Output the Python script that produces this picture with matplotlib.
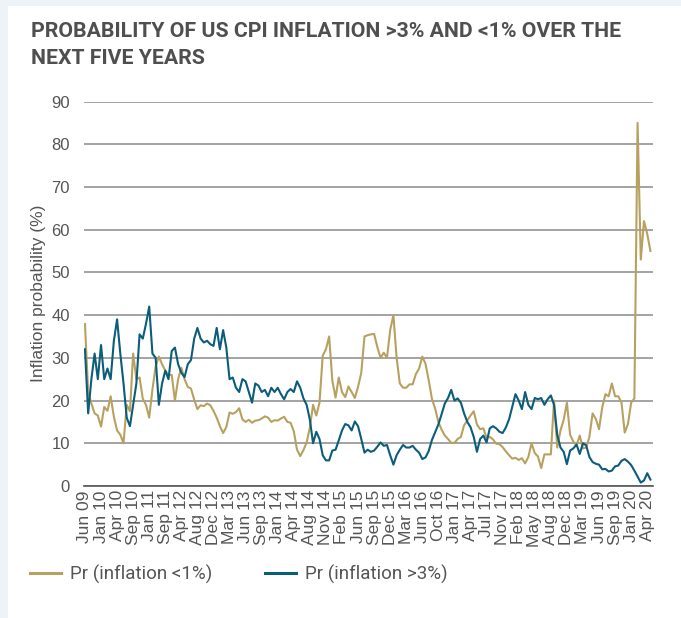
import matplotlib.pyplot as plt
from matplotlib.patches import Rectangle

# tick labels (one every 5 points)
labels = ['Jun 09', 'Jan 10', 'Apr 10', 'Sep 10', 'Jan 11', 'Sep 11', 'Apr 12', 'Aug 12',
          'Dec 12', 'Mar 13', 'Jun 13', 'Sep 13', 'Jan 14', 'Apr 14', 'Aug 14', 'Nov 14',
          'Feb 15', 'Jun 15', 'Sep 15', 'Dec 15', 'Mar 16', 'Jun 16', 'Oct 16', 'Jan 17',
          'Apr 17', 'Jul 17', 'Nov 17', 'Feb 18', 'May 18', 'Aug 18', 'Dec 18', 'Mar 19',
          'Jun 19', 'Sep 19', 'Jan 20', 'Apr 20']

# Pr (inflation <1%)
low_infl = [37.9, 22, 19.3, 17, 16.5, 13.9, 18.5, 17.6, 21, 16.2,
            13, 12, 10, 19, 17.5, 31, 25, 25.4, 20.4, 19,
            16, 22.6, 28, 30.3, 28.5, 27, 26, 26, 20, 25,
            27.7, 25, 23.2, 22.8, 20.2, 18, 18.9, 18.7, 19.3, 18.9,
            17.6, 16, 14, 12.4, 13.8, 17.2, 16.9, 17.3, 18.2, 15.6,
            15, 15.5, 14.8, 15.3, 15.4, 15.8, 16.3, 16, 15, 15.4,
            15.3, 15.8, 16.2, 15, 14.8, 12.8, 8.5, 7, 8.4, 10.2,
            13.7, 19, 16.5, 19.5, 30.5, 32, 35, 24.6, 20.7, 25.4,
            22, 20.8, 23.3, 22, 20.6, 23.2, 26.5, 35, 35.3, 35.5,
            35.6, 32.5, 30, 31.2, 30, 36.5, 40, 30, 24, 23,
            23, 23.8, 23.8, 26.2, 27.5, 30.3, 28.6, 24.7, 20.4, 18.1,
            15, 13.2, 11.8, 11, 10.1, 10.1, 11, 11.5, 14.2, 15.3,
            16.5, 17.5, 14.4, 13.3, 13.5, 11.3, 11.5, 10.9, 9.9, 9.8,
            9.1, 8.1, 7.2, 6.4, 6.6, 6.1, 6.5, 5.3, 6.8, 10,
            7.7, 6.9, 4.2, 7.4, 7.4, 7.4, 20, 9, 13, 15.5,
            19.5, 12, 10.4, 9.5, 11.8, 8.8, 9, 11.5, 17, 15.7,
            13.3, 18.4, 21.5, 21, 24, 21, 21, 19.5, 12.5, 14.5,
            19.5, 20.5, 85, 53, 62, 59, 55]

# Pr (inflation >3%)
high_infl = [32, 17, 25, 31, 25, 33, 25, 27.5, 25, 34,
             39, 31, 24, 16, 14, 19, 24, 35.5, 34.5, 38,
             42, 31, 30, 19, 24, 27, 25, 31.6, 32.4, 28.5,
             26.5, 25.5, 28.5, 29.5, 34.5, 37, 34.5, 33.6, 34, 33.2,
             32.8, 37, 32, 36.5, 32.4, 25, 25.4, 23, 22, 25,
             24.5, 22, 19.5, 24, 23.5, 22, 22.5, 21, 23, 22,
             23, 21.5, 20.3, 22, 22.7, 22, 24.5, 23, 20.5, 19,
             15.5, 10, 12.7, 11, 7.2, 6, 6, 8.3, 8.5, 10.7,
             13, 14.5, 14.2, 13, 15.1, 14, 11, 7.8, 8.5, 8,
             8.3, 9.2, 10.2, 9.4, 9.6, 7.2, 5, 7.2, 8.5, 9.6,
             9, 9, 9.4, 8.5, 7.8, 6.3, 6.7, 8.2, 10.8, 12.6,
             14.4, 16.8, 19.3, 20.6, 22.5, 20, 20.5, 19.5, 17, 15,
             13.8, 11.5, 8, 11, 11.8, 10.2, 13.5, 14, 13.5, 12.7,
             12.4, 13.7, 15.6, 18.6, 21.5, 20, 18, 22, 19, 18,
             20.6, 20.3, 20.6, 19, 20.3, 21.2, 19, 12, 9, 8,
             5.1, 8.3, 8.8, 9.7, 7.5, 10, 9.5, 6.8, 5.6, 5.2,
             5, 3.9, 4, 3.4, 3.6, 4.6, 4.8, 5.9, 6.3, 5.7,
             4.9, 3.6, 2.2, 0.8, 1.3, 3, 1.5]

tan = '#b8a160'
blue = '#0b5d7a'
grey_txt = '#555555'
narrow = ['Roboto', 'DejaVu Sans']
arial = ['Liberation Sans', 'DejaVu Sans']

fig = plt.figure(figsize=(6.81, 6.18), dpi=100)
fig.patch.set_facecolor('#eef3f7')
fig.patches.append(Rectangle((8 / 681, 0), 1, 1 - 6 / 618, transform=fig.transFigure,
                             facecolor='white', edgecolor='none', zorder=-10))

ax = fig.add_axes([84 / 681, 1 - 486 / 618, (653 - 84) / 681, (486 - 101.5) / 618])
ax.set_facecolor('none')

x = list(range(len(low_infl)))
ax.plot(x, low_infl, color=tan, lw=1.5, label='Pr (inflation <1%)', zorder=3)
ax.plot(x, high_infl, color=blue, lw=1.5, label='Pr (inflation >3%)', zorder=3)

ax.set_ylim(0, 90)
ax.set_xlim(-0.3, len(x) - 0.2)
ax.set_yticks(range(0, 91, 10))
ax.yaxis.grid(True, color='#8a8a8a', lw=1.1)
ax.set_axisbelow(True)
for s in ['top', 'right', 'left']:
    ax.spines[s].set_visible(False)
ax.spines['bottom'].set_color('#555555')
ax.spines['bottom'].set_linewidth(1.2)

ax.set_xticks(range(0, len(x), 5))
ax.set_xticklabels(labels, rotation=90, family=arial, fontsize=12.5, color=grey_txt)
ax.tick_params(axis='both', length=0)
ax.tick_params(axis='x', pad=3)
ax.tick_params(axis='y', pad=10)
for t in ax.get_yticklabels():
    t.set_family(arial)
    t.set_fontsize(12)
    t.set_color(grey_txt)

ax.set_ylabel('Inflation probability (%)', family=arial, fontsize=12.5,
              color=grey_txt, labelpad=4)

fig.text(31 / 681, 1 - 22 / 618,
         'PROBABILITY OF US CPI INFLATION >3% AND <1% OVER THE\nNEXT FIVE YEARS',
         family=narrow, fontweight='bold', fontsize=15.3, color='#4f4f4f',
         va='top', ha='left', linespacing=1.5)

leg = fig.legend(loc='center left', bbox_to_anchor=(22 / 681, 1 - 574 / 618),
                 borderaxespad=0, ncol=2, frameon=False, handlelength=1.7,
                 handletextpad=0.45, columnspacing=2.8,
                 prop={'family': narrow, 'size': 13.5})
for t in leg.get_texts():
    t.set_color(grey_txt)
for h in leg.legend_handles:
    h.set_linewidth(2.2)

fig.savefig('out.png', dpi=100, facecolor=fig.get_facecolor())
